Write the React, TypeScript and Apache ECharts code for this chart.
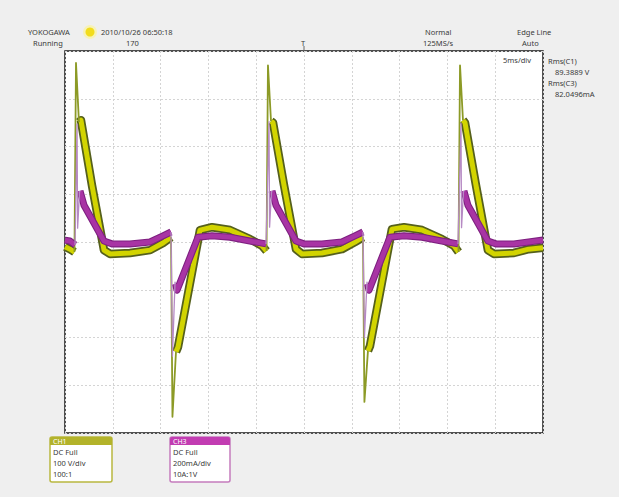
import React, { useEffect, useRef } from "react";
import * as echarts from "echarts";

const B: any = [null, "-"];

// CH1 (voltage, divisions) thick band segments [ms, div]
const ch1Band: any[] = [
  [0, -0.1], [0.52, -0.15], [0.99, -0.21], B,
  [1.46, 2.51], [1.67, 2.55], [2.82, 1.19], [4.08, -0.17], [4.71, -0.25], [6.8, -0.23], [8.89, -0.17], [10.25, -0.02], [11.09, 0.1], B,
  [11.61, -2.3], [11.82, -2.2], [14.12, 0.25], [15.38, 0.31], [17.26, 0.25], [19.35, 0.06], [20.61, -0.08], [21.08, -0.19], B,
  [21.55, 2.53], [21.76, 2.5], [22.9, 1.2], [24.16, -0.15], [24.79, -0.25], [26.88, -0.23], [28.97, -0.15], [30.33, 0.0], [31.17, 0.1], B,
  [31.69, -2.28], [31.9, -2.18], [34.2, 0.27], [35.46, 0.31], [37.34, 0.25], [39.43, 0.06], [40.69, -0.08], [41.16, -0.21], B,
  [41.63, 2.55], [41.84, 2.5], [42.98, 1.2], [44.24, -0.17], [44.87, -0.25], [46.96, -0.23], [48.5, -0.15], [50, -0.12],
];

// CH1 thin spikes
const ch1Spikes: any[] = [
  [0.99, -0.21], [1.15, 3.75], [1.46, 2.51], B,
  [11.09, 0.1], [11.24, -3.66], [11.61, -2.3], B,
  [21.08, -0.19], [21.23, 3.7], [21.55, 2.53], B,
  [31.17, 0.1], [31.32, -3.35], [31.69, -2.28], B,
  [41.16, -0.21], [41.32, 3.7], [41.63, 2.55],
];

// CH3 (current, divisions) thick band segments
const ch3Band: any[] = [
  [0, 0.04], [0.52, 0.02], [1.05, -0.06], B,
  [1.57, 1.07], [1.99, 0.77], [4.08, 0.02], [4.92, -0.04], [6.8, -0.04], [8.89, 0.0], [10.25, 0.13], [11.09, 0.21], B,
  [11.56, -0.88], [11.72, -1.01], [13.91, 0.1], [15.38, 0.13], [17.26, 0.1], [19.35, 0.02], [21.03, -0.04], B,
  [21.65, 1.07], [22.07, 0.77], [24.16, 0.02], [25.0, -0.04], [26.88, -0.04], [28.97, 0.0], [30.33, 0.13], [31.17, 0.21], B,
  [31.64, -0.88], [31.8, -1.01], [33.99, 0.1], [35.46, 0.13], [37.34, 0.1], [39.43, 0.02], [41.11, -0.04], B,
  [41.73, 1.07], [42.15, 0.77], [44.24, 0.02], [45.08, -0.04], [46.96, -0.04], [48.5, 0.0], [50, 0.04],
];

// CH3 thin spikes
const ch3Spikes: any[] = [
  [1.05, -0.06], [1.26, 2.47], [1.32, 0.29], [1.52, 1.05], [1.57, 1.07], B,
  [11.09, 0.21], [11.24, -2.39], [11.51, -0.84], [11.56, -0.88], B,
  [21.03, -0.04], [21.34, 2.52], [21.4, 0.31], [21.6, 1.05], [21.65, 1.07], B,
  [31.17, 0.21], [31.32, -2.0], [31.59, -0.84], [31.64, -0.88], B,
  [41.11, -0.04], [41.42, 2.49], [41.48, 0.3], [41.68, 1.05], [41.73, 1.07],
];

const headerLeft = ["YOKOGAWA", "2010/10/26 06:50:18", "Running", "170"];
const headerRight = ["Normal", "125MS/s", "Edge Line", "Auto"];
const rmsLabels = ["Rms(C1)", "89.3889 V", "Rms(C3)", "82.0496mA"];
const ch1Info = ["CH1", "DC Full", "100 V/div", "100:1"];
const ch3Info = ["CH3", "DC Full", "200mA/div", "10A:1V"];

const FONT = "Noto Sans";

function txt(text: string, x: number, y: number, extra: any = {}) {
  return {
    type: "text",
    x,
    y,
    style: { text, fill: "#3a3a3a", fontSize: 7.5, fontFamily: FONT, textVerticalAlign: "middle", ...extra },
    z: 10,
  };
}

function chBox(x: number, w: number, info: string[], border: string, head: string) {
  return [
    { type: "rect", shape: { x, y: 437, width: w, height: 45, r: 2 }, style: { fill: "#fff", stroke: border, lineWidth: 1.5 }, z: 5 },
    { type: "rect", shape: { x, y: 437, width: w, height: 8, r: [2, 2, 0, 0] }, style: { fill: head }, z: 6 },
    txt(info[0], x + 3, 441, { fill: "#fff", fontSize: 7 }),
    txt(info[1], x + 3, 452),
    txt(info[2], x + 3, 463),
    txt(info[3], x + 3, 474),
  ];
}

export default function App() {
  const ref = useRef<HTMLDivElement>(null);
  useEffect(() => {
    document.body.style.margin = "0";
    const chart = echarts.init(ref.current!, null, { renderer: "svg" });
    const lineBase = { type: "line", showSymbol: false, symbol: "none", connectNulls: false, silent: true };
    chart.setOption({
      animation: false,
      backgroundColor: "#efefef",
      grid: { left: 65, top: 51, width: 478, height: 382, show: true, backgroundColor: "#fff", borderColor: "#1a1a1a", borderWidth: 1.5 },
      xAxis: {
        type: "value", min: 0, max: 50, interval: 5,
        axisLabel: { show: false }, axisTick: { show: false }, axisLine: { show: false },
        splitLine: { show: true, lineStyle: { color: "#d4d4d4", type: [2, 2], width: 1 } },
      },
      yAxis: {
        type: "value", min: -4, max: 4, interval: 1,
        axisLabel: { show: false }, axisTick: { show: false }, axisLine: { show: false },
        splitLine: { show: true, lineStyle: { color: "#d4d4d4", type: [2, 2], width: 1 } },
      },
      series: [
        { ...lineBase, name: "CH1 edge", data: ch1Band, lineStyle: { color: "#55601c", width: 8.5, join: "round", cap: "butt" } },
        { ...lineBase, name: "CH1", data: ch1Band, lineStyle: { color: "#d2d400", width: 5, join: "round", cap: "butt" } },
        { ...lineBase, name: "CH1 spike", data: ch1Spikes, lineStyle: { color: "#8c9a26", width: 1.8, join: "round" } },
        { ...lineBase, name: "CH3 edge", data: ch3Band, lineStyle: { color: "#7e2080", width: 7, join: "round", cap: "butt" } },
        { ...lineBase, name: "CH3", data: ch3Band, lineStyle: { color: "#a834a4", width: 4.8, join: "round", cap: "butt" } },
        { ...lineBase, name: "CH3 spike", data: ch3Spikes, lineStyle: { color: "#b68ac4", width: 1.3, join: "round" } },
      ],
      graphic: [
        txt(headerLeft[0], 28, 32),
        { type: "circle", shape: { cx: 90, cy: 32, r: 7 }, style: { fill: "#fbf3a0", opacity: 0.7 }, z: 9 },
        { type: "circle", shape: { cx: 90, cy: 32, r: 4.5 }, style: { fill: "#f2dc1c" }, z: 10 },
        txt(headerLeft[1], 101, 32),
        txt(headerLeft[2], 33, 43),
        txt(headerLeft[3], 126, 43),
        txt("T", 301, 43),
        { type: "line", shape: { x1: 304, y1: 46, x2: 304, y2: 51 }, style: { stroke: "#666", lineWidth: 1 }, z: 10 },
        txt(headerRight[0], 425, 32),
        txt(headerRight[1], 423, 43),
        txt(headerRight[2], 517, 32),
        txt(headerRight[3], 522, 43),
        txt("5ms/div", 503, 60),
        txt(rmsLabels[0], 548, 61),
        txt(rmsLabels[1], 555, 72),
        txt(rmsLabels[2], 548, 83),
        txt(rmsLabels[3], 555, 94),
        ...chBox(50, 62, ch1Info, "#b9b840", "#b3b32a"),
        ...chBox(170, 60, ch3Info, "#c57cbd", "#c23cb2"),
      ],
    });
    return () => chart.dispose();
  }, []);
  return <div ref={ref} style={{ width: 619, height: 497 }} />;
}
